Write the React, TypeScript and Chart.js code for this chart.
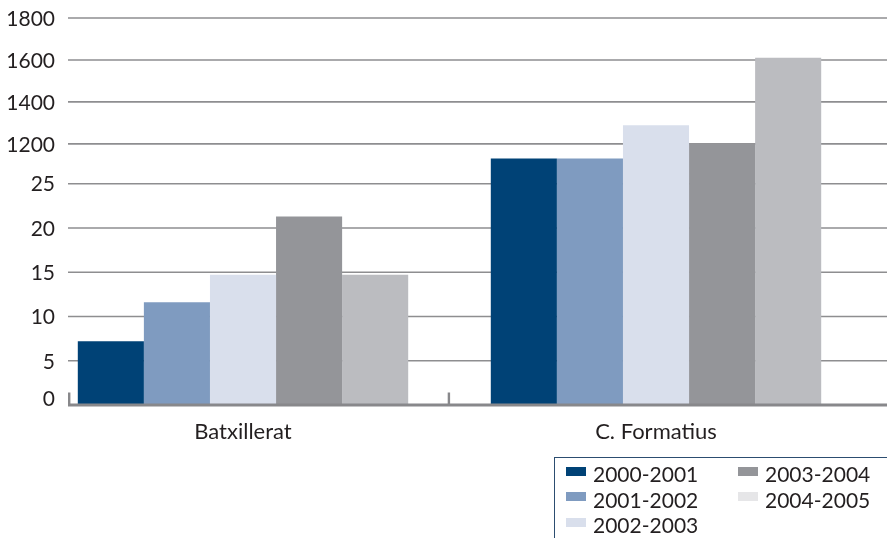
import React, { useEffect, useRef } from 'react';
import { Chart, registerables } from 'chart.js';

Chart.register(...registerables);

// ---- data ----
const categories = ['Batxillerat', 'C. Formatius'];
const seriesNames = ['2000-2001', '2001-2002', '2002-2003', '2003-2004', '2004-2005'];
const values2000_2001 = [7.2, 1130];
const values2001_2002 = [11.6, 1130];
const values2002_2003 = [14.7, 1289];
const values2003_2004 = [21.3, 1203];
const values2004_2005 = [14.7, 1610];
const yTickValues = [0, 5, 10, 15, 20, 25, 1200, 1400, 1600, 1800];

// ---- styles ----
const barColors = ['#004276', '#7f9bc0', '#d9dfec', '#949599', '#bbbcc0'];
const legendColors = ['#004276', '#7f9bc0', '#d9dfec', '#949599', '#e6e6e8'];
const TEXT = '#231f20';
const FONT = 'Lato, "Open Sans", sans-serif';
const GRID_LEFT = 68;
const Y_LABEL_RIGHT = 55;

// broken axis: 0..25 then 1200..1800
const LOWER_TOP = 25;
const UPPER_BASE = 1200;
const BREAK_GAP = 4.5;
const UPPER_PER_UNIT = 42.2;
function toPlot(v: number): number {
  return v <= LOWER_TOP ? v : LOWER_TOP + BREAK_GAP + (v - UPPER_BASE) / UPPER_PER_UNIT;
}

const allSeries = [values2000_2001, values2001_2002, values2002_2003, values2003_2004, values2004_2005];

const gridPlugin = {
  id: 'customGrid',
  beforeDatasetsDraw(chart: any) {
    const { ctx } = chart;
    const y = chart.scales.y;
    const right = chart.width;
    ctx.save();
    ctx.strokeStyle = '#8e8e90';
    ctx.lineWidth = 1.6;
    yTickValues.forEach((v) => {
      if (v === 0) return;
      const py = y.getPixelForValue(toPlot(v));
      ctx.beginPath();
      ctx.moveTo(GRID_LEFT, py);
      ctx.lineTo(right, py);
      ctx.stroke();
    });
    ctx.restore();
  },
  afterDatasetsDraw(chart: any) {
    const { ctx } = chart;
    const x = chart.scales.x;
    const y = chart.scales.y;
    const right = chart.width;
    const py = y.getPixelForValue(0);
    ctx.save();
    ctx.fillStyle = '#88888b';
    ctx.fillRect(GRID_LEFT, py - 1.5, right - GRID_LEFT, 3);
    ctx.fillRect(GRID_LEFT, py - 12.5, 2.4, 12.5);
    const boundary = (x.getPixelForValue(0) + x.getPixelForValue(1)) / 2;
    ctx.fillRect(boundary - 1.8, py - 12.5, 2.4, 12.5);
    ctx.restore();
  },
  afterDraw(chart: any) {
    const { ctx } = chart;
    const y = chart.scales.y;
    ctx.save();
    ctx.fillStyle = TEXT;
    ctx.font = `21px ${FONT}`;
    ctx.textAlign = 'right';
    ctx.textBaseline = 'middle';
    yTickValues.forEach((v) => {
      const py = y.getPixelForValue(toPlot(v)) - (v === 0 ? 7 : 0);
      ctx.fillText(String(v), Y_LABEL_RIGHT, py + 1);
    });
    ctx.restore();
  },
};

export default function App() {
  const canvasRef = useRef<HTMLCanvasElement | null>(null);

  useEffect(() => {
    document.body.style.margin = '0';
    const canvas = canvasRef.current;
    if (!canvas) return;
    const chart = new Chart(canvas, {
      type: 'bar',
      data: {
        labels: categories,
        datasets: seriesNames.map((name, i) => ({
          label: name,
          data: allSeries[i].map(toPlot),
          backgroundColor: barColors[i],
          borderWidth: 0,
          categoryPercentage: 0.8,
          barPercentage: 1.0,
        })),
      },
      options: {
        responsive: false,
        animation: false,
        layout: { padding: { left: 0, right: 24.5, top: 18, bottom: 93 } },
        plugins: {
          legend: { display: false },
          tooltip: { enabled: false },
        },
        scales: {
          x: {
            grid: { display: false, drawTicks: false },
            border: { display: false },
            ticks: {
              color: TEXT,
              font: { family: FONT, size: 22 },
              padding: 14,
            },
            afterFit: (scale: any) => {
              scale.height = 40;
            },
          },
          y: {
            min: 0,
            max: toPlot(1800),
            grid: { display: false, drawTicks: false },
            border: { display: false },
            afterBuildTicks: (scale: any) => {
              scale.ticks = yTickValues.map((v) => ({ value: toPlot(v) }));
            },
            afterFit: (scale: any) => {
              scale.width = 36.5;
            },
            ticks: {
              display: false,
              autoSkip: false,
            },
          },
        },
      },
      plugins: [gridPlugin],
    });
    return () => chart.destroy();
  }, []);

  const legendItems = seriesNames.map((name, i) => {
    const col = i < 3 ? 0 : 1;
    const row = i < 3 ? i : i - 3;
    return { name, color: legendColors[i], left: col === 0 ? 566 : 738, top: 461 + row * 25.7 };
  });

  return (
    <div style={{ position: 'relative', width: 887, height: 538, overflow: 'hidden', background: '#fff' }}>
      <canvas ref={canvasRef} width={887} height={538} style={{ position: 'absolute', left: 0, top: 0 }} />
      <div
        style={{
          position: 'absolute',
          left: 553.5,
          top: 456.5,
          width: 400,
          height: 120,
          borderLeft: '1.6px solid #2c4d70',
          borderTop: '1.6px solid #2c4d70',
          boxSizing: 'border-box',
        }}
      />
      {legendItems.map((it) => (
        <div
          key={it.name}
          style={{
            position: 'absolute',
            left: it.left,
            top: it.top,
            height: 26,
            display: 'flex',
            alignItems: 'center',
            fontFamily: FONT,
            fontSize: 21,
            lineHeight: '26px',
            color: TEXT,
            whiteSpace: 'nowrap',
          }}
        >
          <span
            style={{
              display: 'inline-block',
              width: 20,
              height: 9,
              background: it.color,
              marginRight: 7,
              transform: 'translateY(-3px)',
            }}
          />
          <span>{it.name}</span>
        </div>
      ))}
    </div>
  );
}
